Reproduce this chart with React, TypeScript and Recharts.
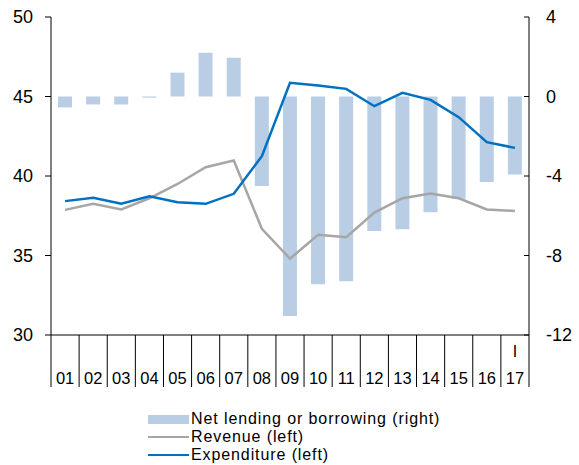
import { ComposedChart, Bar, Line, XAxis, YAxis } from "recharts";

const years = ["01", "02", "03", "04", "05", "06", "07", "08", "09", "10", "11", "12", "13", "14", "15", "16", "17"];
const netLending = [-0.55, -0.4, -0.4, -0.06, 1.2, 2.2, 1.95, -4.5, -11.05, -9.45, -9.3, -6.77, -6.68, -5.83, -5.14, -4.3, -3.92];
const revenue = [37.87, 38.25, 37.9, 38.6, 39.5, 40.55, 40.97, 36.68, 34.8, 36.3, 36.15, 37.7, 38.6, 38.9, 38.6, 37.9, 37.8];
const expenditure = [38.42, 38.63, 38.25, 38.73, 38.35, 38.25, 38.88, 41.25, 45.86, 45.69, 45.48, 44.39, 45.23, 44.79, 43.7, 42.13, 41.77];
const leftTicks = [30, 35, 40, 45, 50];
const rightTicks = [-12, -8, -4, 0, 4];

const data = years.map((year, i) => ({
  year,
  netLending: netLending[i],
  revenue: revenue[i],
  expenditure: expenditure[i],
}));

const FONT = "'Liberation Sans', Arial, sans-serif";
const W = 579;
const H = 465;
const LEFT_W = 51;
const RIGHT_W = 50;
const HALF_BAND = (W - LEFT_W - RIGHT_W) / years.length / 2;

function YearTick(props: any) {
  const { x, y, payload, index } = props;
  const last = index === years.length - 1;
  return (
    <g>
      <line x1={x - HALF_BAND} x2={x - HALF_BAND} y1={y} y2={y + 52} stroke="#000" strokeWidth={1} />
      {last && <line x1={x + HALF_BAND} x2={x + HALF_BAND} y1={y} y2={y + 52} stroke="#000" strokeWidth={1} />}
      {last && (
        <text x={x} y={y + 22} textAnchor="middle" fontSize={16} fontFamily={FONT} fill="#000">
          I
        </text>
      )}
      <text x={x} y={y + 49} textAnchor="middle" fontSize={16.5} fontFamily={FONT} fill="#000">
        {payload.value}
      </text>
    </g>
  );
}

function RightTick(props: any) {
  const { x, y, payload } = props;
  const axisX = x - 17;
  return (
    <g>
      <line x1={axisX - 5} x2={axisX} y1={y} y2={y} stroke="#000" strokeWidth={1} />
      <text x={x} y={y} dy={6} textAnchor="start" fontSize={18} fontFamily={FONT} fill="#000">
        {payload.value}
      </text>
    </g>
  );
}

const legendRow = { display: "flex", alignItems: "center", height: 18 } as const;

export default function App() {
  return (
    <div style={{ position: "absolute", left: 0, top: 0, width: W, height: H, background: "#fff", fontFamily: FONT }}>
      <ComposedChart width={W} height={H} data={data} margin={{ top: 17, right: 0, bottom: 75, left: 0 }}>
        <XAxis
          dataKey="year"
          interval={0}
          tickLine={false}
          tickSize={0}
          tickMargin={0}
          height={55}
          axisLine={{ stroke: "#000" }}
          tick={<YearTick />}
        />
        <YAxis
          yAxisId="left"
          width={LEFT_W}
          domain={[30, 50]}
          ticks={leftTicks}
          tickSize={6}
          tickMargin={12}
          axisLine={{ stroke: "#000" }}
          tickLine={{ stroke: "#000" }}
          tick={{ fill: "#000", fontSize: 18, fontFamily: FONT }}
        />
        <YAxis
          yAxisId="right"
          orientation="right"
          width={RIGHT_W}
          domain={[-12, 4]}
          ticks={rightTicks}
          tickLine={false}
          tickSize={0}
          tickMargin={17}
          axisLine={{ stroke: "#000" }}
          tick={<RightTick />}
        />
        <Bar yAxisId="right" dataKey="netLending" fill="#b9cde5" barSize={14} isAnimationActive={false} />
        <Line yAxisId="left" type="linear" dataKey="revenue" stroke="#a6a6a6" strokeWidth={2.5} dot={false} isAnimationActive={false} />
        <Line yAxisId="left" type="linear" dataKey="expenditure" stroke="#0070c0" strokeWidth={2.5} dot={false} isAnimationActive={false} />
      </ComposedChart>
      <div style={{ position: "absolute", left: 148, top: 410, fontSize: 16, lineHeight: "18px", letterSpacing: 0.9, color: "#000" }}>
        <div style={legendRow}>
          <span style={{ display: "inline-block", width: 41, height: 9, background: "#b9cde5", marginRight: 2 }} />
          <span>Net lending or borrowing (right)</span>
        </div>
        <div style={legendRow}>
          <span style={{ display: "inline-block", width: 41, height: 2.5, background: "#a6a6a6", marginRight: 2 }} />
          <span>Revenue (left)</span>
        </div>
        <div style={legendRow}>
          <span style={{ display: "inline-block", width: 41, height: 2.5, background: "#0070c0", marginRight: 2 }} />
          <span>Expenditure (left)</span>
        </div>
      </div>
    </div>
  );
}
